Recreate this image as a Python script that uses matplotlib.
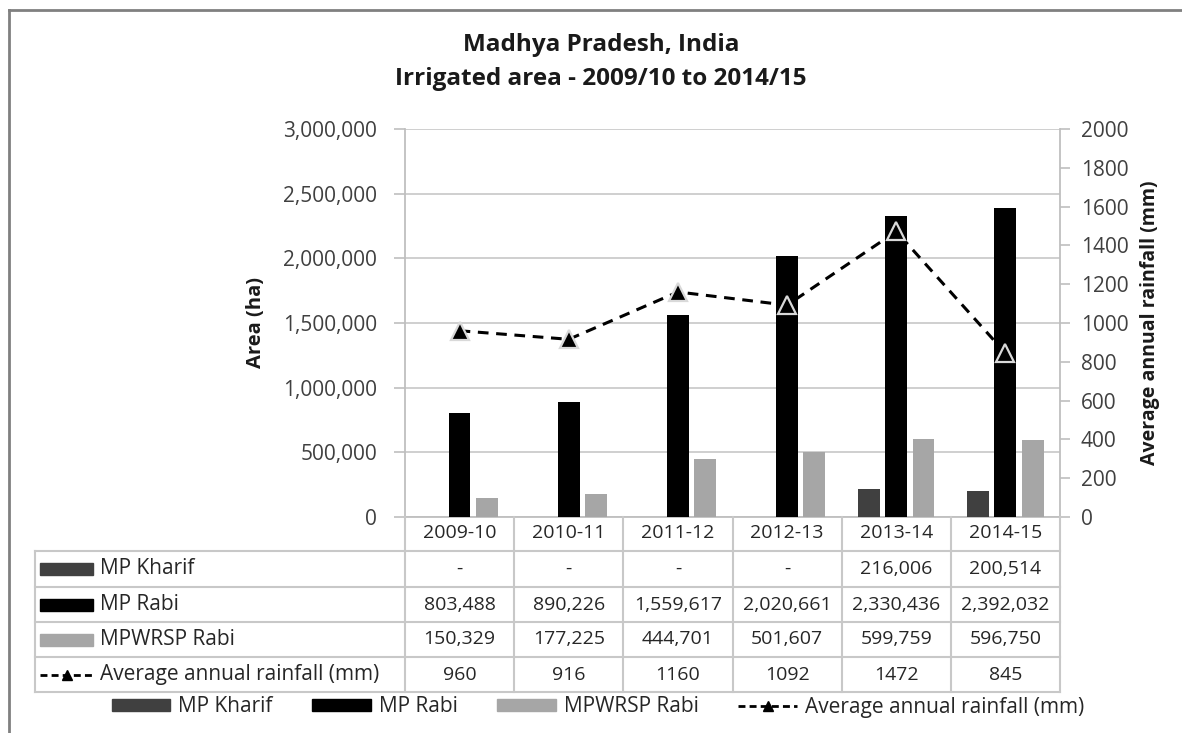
import matplotlib.pyplot as plt
import matplotlib.transforms as mtransforms
from matplotlib.lines import Line2D
from matplotlib.patches import Rectangle, Patch
import numpy as np

plt.rcParams['font.family'] = ['Open Sans', 'DejaVu Sans']

# Data
years = ['2009-10', '2010-11', '2011-12', '2012-13', '2013-14', '2014-15']
mp_kharif = [0, 0, 0, 0, 216006, 200514]
mp_rabi = [803488, 890226, 1559617, 2020661, 2330436, 2392032]
mpwrsp_rabi = [150329, 177225, 444701, 501607, 599759, 596750]
rainfall = [960, 916, 1160, 1092, 1472, 845]

series_names = ['MP Kharif', 'MP Rabi', 'MPWRSP Rabi']
rain_name = 'Average annual rainfall (mm)'
colors = ['#404040', '#000000', '#a6a6a6']

W, H = 1182, 733
fig = plt.figure(figsize=(W / 100, H / 100), dpi=100)
fs = 14      # table values
fs_lab = 15  # row labels / legend

# pixel helpers
def fx(px):
    return px / W

def fy(py):
    return 1 - py / H

ax_l, ax_r, ax_t, ax_b = 405, 1060, 129, 517
ax = fig.add_axes([fx(ax_l), fy(ax_b), fx(ax_r - ax_l), (ax_b - ax_t) / H])
ax2 = ax.twinx()

x = np.arange(len(years))
width = 0.2
off = 0.25
for k, vals in enumerate([mp_kharif, mp_rabi, mpwrsp_rabi]):
    ax.bar(x + (k - 1) * off, vals, width, color=colors[k], zorder=3)

ax.set_xlim(-0.5, len(years) - 0.5)
ax.set_ylim(0, 3000000)
ax.set_yticks(np.arange(0, 3000001, 500000))
ax.yaxis.set_major_formatter(plt.FuncFormatter(lambda v, p: f'{int(v):,}'))
ax.grid(axis='y', color='#cccccc', lw=1.3, zorder=0)
ax.set_xticks(x)
ax.set_xticklabels(years)
ax.tick_params(axis='x', length=0, pad=5, labelsize=fs, labelcolor='#262626')
ax.tick_params(axis='y', length=8, color='#bfbfbf', width=1.2, labelsize=15,
               labelcolor='#404040', pad=12)
for s in ['top', 'right']:
    ax.spines[s].set_visible(False)
for s in ['left', 'bottom']:
    ax.spines[s].set_color('#bfbfbf')
    ax.spines[s].set_linewidth(1.3)
ax.set_ylabel('Area (ha)', fontsize=14.5, fontweight='bold', labelpad=12,
              color='#1a1a1a')

ax2.plot(x, rainfall, color='black', ls=(0, (3.5, 2.5)), lw=2.2, zorder=4,
         marker='^', markersize=13, markerfacecolor='black',
         markeredgecolor='#d9d9d9', markeredgewidth=1.6)
ax2.set_ylim(0, 2000)
ax2.set_yticks(np.arange(0, 2001, 200))
ax2.tick_params(axis='y', length=7, color='#bfbfbf', width=1.2, labelsize=15,
                labelcolor='#404040', pad=8)
for s in ['top', 'left', 'bottom']:
    ax2.spines[s].set_visible(False)
ax2.spines['right'].set_color('#bfbfbf')
ax2.spines['right'].set_linewidth(1.3)
ax2.set_ylabel(rain_name, fontsize=14, fontweight='bold', labelpad=8,
               color='#1a1a1a')

# Title
fig.text(fx(601), fy(45), 'Madhya Pradesh, India', ha='center', va='center',
         fontsize=17.5, fontweight='bold', color='#1a1a1a')
fig.text(fx(601), fy(79), 'Irrigated area - 2009/10 to 2014/15', ha='center',
         va='center', fontsize=17.5, fontweight='bold', color='#1a1a1a')

# Data table
line_c = '#c8c8c8'
tab_l = 35
row_edges = [517, 551, 587, 622, 657, 692]
blend = mtransforms.blended_transform_factory(ax.transData, fig.transFigure)

def fig_line(xs, ys, **kw):
    fig.add_artist(Line2D([fx(v) for v in xs], [fy(v) for v in ys],
                          transform=fig.transFigure, **kw))

for yy in row_edges[1:]:
    fig_line([tab_l, ax_r], [yy, yy], color=line_c, lw=1.5)
fig_line([tab_l, tab_l], [row_edges[1], row_edges[-1]], color=line_c, lw=1.5)
for b in np.arange(len(years) + 1) - 0.5:
    fig.add_artist(Line2D([b, b], [fy(row_edges[0]), fy(row_edges[-1])],
                          transform=blend, color=line_c, lw=1.5))

def fmt(v):
    return '-' if v == 0 else f'{v:,}'

rows = [[fmt(v) for v in mp_kharif], [fmt(v) for v in mp_rabi],
        [fmt(v) for v in mpwrsp_rabi], [str(v) for v in rainfall]]
labels = series_names + [rain_name]
for r, (lab, cells) in enumerate(zip(labels, rows)):
    yc = (row_edges[r + 1] + row_edges[r + 2]) / 2
    for i, txt in enumerate(cells):
        fig.text(i, fy(yc), txt, transform=blend, ha='center', va='center',
                 fontsize=fs, color='#262626')
    if r < 3:
        fig.add_artist(Rectangle((fx(40), fy(yc + 6)), fx(53), 12 / H,
                                 transform=fig.transFigure, color=colors[r]))
    else:
        fig_line([40, 95], [yc, yc], color='black', ls=(0, (2.5, 1.5)), lw=2)
        fig.add_artist(Line2D([fx(67)], [fy(yc)], transform=fig.transFigure,
                              marker='^', color='black', markersize=7, ls='none'))
    fig.text(fx(100), fy(yc), lab, ha='left', va='center', fontsize=fs_lab,
             color='#262626')

# Legend
handles = [Patch(color=c) for c in colors]
handles.append(Line2D([], [], color='black', ls=(0, (2.5, 1.5)), lw=2,
                      marker='^', markersize=7))
fig.legend(handles, labels, loc='center', bbox_to_anchor=(fx(598), fy(707)),
           ncol=4, frameon=False, fontsize=fs_lab, handlelength=2.8,
           handleheight=0.55, handletextpad=0.4, columnspacing=1.9,
           labelcolor='#262626')

# Frame
fig_line([9, 9], [10, H], color='#808080', lw=2)
fig_line([9, W], [10, 10], color='#808080', lw=2)

plt.savefig('out.png', dpi=100)
